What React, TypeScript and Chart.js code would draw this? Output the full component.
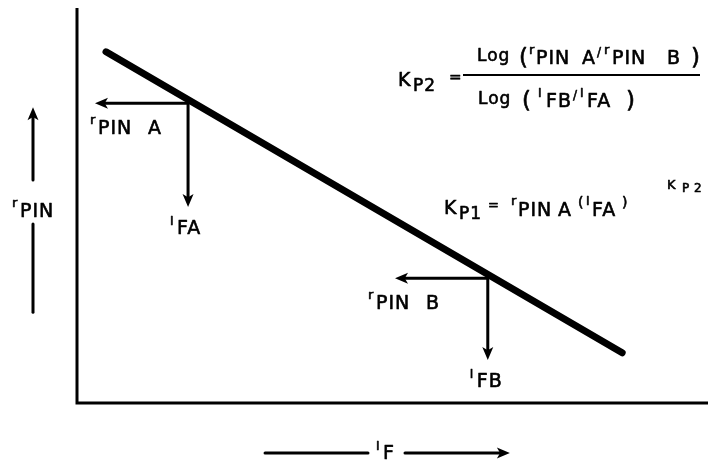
import { useEffect, useRef } from "react";
import { Chart, registerables } from "chart.js";

Chart.register(...registerables);

// ---- data (schematic, arbitrary log units) ----
const AXIS_RANGE = [0, 100];
const lineX = [4.6, 86.4];
const lineY = [88.9, 12.7];
const pointNames = ["A", "B"];
const pointX = [17.6, 65.1];
const pointY = [75.9, 31.6];
const leftArrowTipX = [2.85, 50.4];
const downArrowTipY = [49.6, 10.9];
const yTitleArrowY = [23.0, 74.9]; // tail, tip (y values)
const xTitleArrowX = [29.8, 68.6]; // tail, tip (x values)

const FONT = '"DejaVu Sans", "Liberation Sans", Arial, sans-serif';

function t(ctx: CanvasRenderingContext2D, s: string, x: number, y: number, size: number) {
  ctx.font = `${size}px ${FONT}`;
  (ctx as any).letterSpacing = size >= 16 ? "1px" : "0px";
  ctx.fillText(s, x, y);
  ctx.lineWidth = 0.6;
  ctx.lineJoin = "round";
  ctx.strokeText(s, x, y);
}

function arrow(ctx: CanvasRenderingContext2D, x1: number, y1: number, x2: number, y2: number, w = 3, head = 13, hw = 5.5) {
  const a = Math.atan2(y2 - y1, x2 - x1);
  const c = Math.cos(a), s = Math.sin(a);
  ctx.lineWidth = w;
  ctx.lineCap = "round";
  ctx.beginPath();
  ctx.moveTo(x1, y1);
  ctx.lineTo(x2 - c * head * 0.7, y2 - s * head * 0.7);
  ctx.stroke();
  ctx.beginPath();
  ctx.moveTo(x2, y2);
  ctx.lineTo(x2 - c * head - s * hw, y2 - s * head + c * hw);
  ctx.lineTo(x2 - c * head * 0.75, y2 - s * head * 0.75);
  ctx.lineTo(x2 - c * head + s * hw, y2 - s * head - c * hw);
  ctx.closePath();
  ctx.fill();
}

// r_PIN X label: small raised r then PIN and the point letter
function rpin(ctx: CanvasRenderingContext2D, x: number, base: number, letter: string) {
  t(ctx, "r", x, base - 10, 13);
  t(ctx, "PIN", x + 8, base, 19);
  if (letter) t(ctx, letter, x + 58, base, 19);
}
// I_F label: small raised I then subscript text
function ifx(ctx: CanvasRenderingContext2D, x: number, base: number, sub: string) {
  t(ctx, "I", x, base - 9, 12);
  t(ctx, sub, x + 7, base, 19);
}

const schematic = {
  id: "schematic",
  afterDatasetsDraw(chart: any) {
    const ctx: CanvasRenderingContext2D = chart.ctx;
    const xs = chart.scales.x;
    const ys = chart.scales.y;
    const ca = chart.chartArea;
    ctx.save();
    ctx.strokeStyle = "#000";
    ctx.fillStyle = "#000";
    ctx.textBaseline = "alphabetic";

    // axes
    ctx.lineWidth = 3;
    ctx.lineCap = "butt";
    ctx.beginPath();
    ctx.moveTo(ca.left, ca.top);
    ctx.lineTo(ca.left, ca.bottom);
    ctx.lineTo(ca.right, ca.bottom);
    ctx.stroke();

    // projection arrows and labels
    pointNames.forEach((n, i) => {
      const px = xs.getPixelForValue(pointX[i]);
      const py = ys.getPixelForValue(pointY[i]);
      const lx = xs.getPixelForValue(leftArrowTipX[i]);
      const dy = ys.getPixelForValue(downArrowTipY[i]);
      arrow(ctx, px, py, lx, py);
      arrow(ctx, px, py, px, dy);
      const rx = i === 0 ? lx - 5 : lx - 27;
      rpin(ctx, rx, py + 31, n);
      ifx(ctx, px - 18, dy + 27, "F" + n);
    });

    // y title with split arrow
    const ax = ca.left - 44;
    const yTail = ys.getPixelForValue(yTitleArrowY[0]);
    const yTip = ys.getPixelForValue(yTitleArrowY[1]);
    ctx.lineWidth = 3;
    ctx.lineCap = "round";
    ctx.beginPath();
    ctx.moveTo(ax, yTail);
    ctx.lineTo(ax, 224);
    ctx.stroke();
    arrow(ctx, ax, 180, ax, yTip);
    rpin(ctx, ax - 21, 217, "");

    // x title with split arrow
    const xTail = xs.getPixelForValue(xTitleArrowX[0]);
    const xTip = xs.getPixelForValue(xTitleArrowX[1]);
    const ty = ca.bottom + 50;
    ctx.lineWidth = 3;
    ctx.beginPath();
    ctx.moveTo(xTail, ty);
    ctx.lineTo(368, ty);
    ctx.stroke();
    arrow(ctx, 405, ty, xTip, ty);
    ifx(ctx, 376, ty + 6, "F");

    // K_P2 equation
    t(ctx, "K", 398, 86, 19);
    t(ctx, "P2", 413, 91, 17);
    t(ctx, "=", 449, 82, 15);
    ctx.lineWidth = 2;
    ctx.lineCap = "butt";
    ctx.beginPath();
    ctx.moveTo(463, 75);
    ctx.lineTo(700, 75);
    ctx.stroke();
    // numerator
    t(ctx, "Log", 477, 61, 17);
    t(ctx, "(", 519, 65, 23);
    t(ctx, "r", 529, 54, 13);
    t(ctx, "PIN", 536, 64, 19);
    t(ctx, "A", 582, 64, 19);
    t(ctx, "/", 597, 56, 12);
    t(ctx, "r", 604, 54, 13);
    t(ctx, "PIN", 612, 64, 19);
    t(ctx, "B", 667, 64, 19);
    t(ctx, ")", 691, 65, 23);
    // denominator
    t(ctx, "Log", 478, 104, 17);
    t(ctx, "(", 522, 108, 23);
    t(ctx, "I", 538, 97, 12);
    t(ctx, "FB", 546, 107, 19);
    t(ctx, "/", 573, 99, 12);
    t(ctx, "I", 580, 97, 12);
    t(ctx, "FA", 587, 107, 19);
    t(ctx, ")", 626, 108, 23);

    // K_P1 equation
    t(ctx, "K", 444, 214, 19);
    t(ctx, "P1", 459, 219, 17);
    t(ctx, "=", 488, 209, 13);
    t(ctx, "r", 511, 205, 13);
    t(ctx, "PIN", 518, 216, 19);
    t(ctx, "A", 558, 216, 19);
    t(ctx, "(", 578, 207, 14);
    t(ctx, "I", 586, 205, 12);
    t(ctx, "FA", 592, 216, 19);
    t(ctx, ")", 622, 207, 14);
    t(ctx, "K", 667, 189, 13);
    t(ctx, "P", 682, 192, 12);
    t(ctx, "2", 694, 192, 12);

    ctx.restore();
  },
};

export default function App() {
  const ref = useRef<HTMLCanvasElement>(null);
  useEffect(() => {
    if (!ref.current) return;
    const chart = new Chart(ref.current, {
      type: "scatter",
      data: {
        datasets: [
          {
            data: lineX.map((x, i) => ({ x, y: lineY[i] })),
            showLine: true,
            borderColor: "#000",
            borderWidth: 7,
            borderCapStyle: "round",
            pointRadius: 0,
          } as any,
        ],
      },
      options: {
        animation: false,
        responsive: false,
        devicePixelRatio: 1,
        events: [],
        layout: { padding: { left: 77, top: 8, right: 1, bottom: 64 } },
        plugins: { legend: { display: false }, tooltip: { enabled: false } },
        scales: {
          x: { type: "linear", display: false, min: AXIS_RANGE[0], max: AXIS_RANGE[1] },
          y: { type: "linear", display: false, min: AXIS_RANGE[0], max: AXIS_RANGE[1] },
        },
      },
      plugins: [schematic],
    });
    return () => chart.destroy();
  }, []);
  return (
    <div style={{ position: "fixed", left: 0, top: 0, width: 709, height: 467, background: "#fff" }}>
      <canvas ref={ref} width={709} height={467} />
    </div>
  );
}
